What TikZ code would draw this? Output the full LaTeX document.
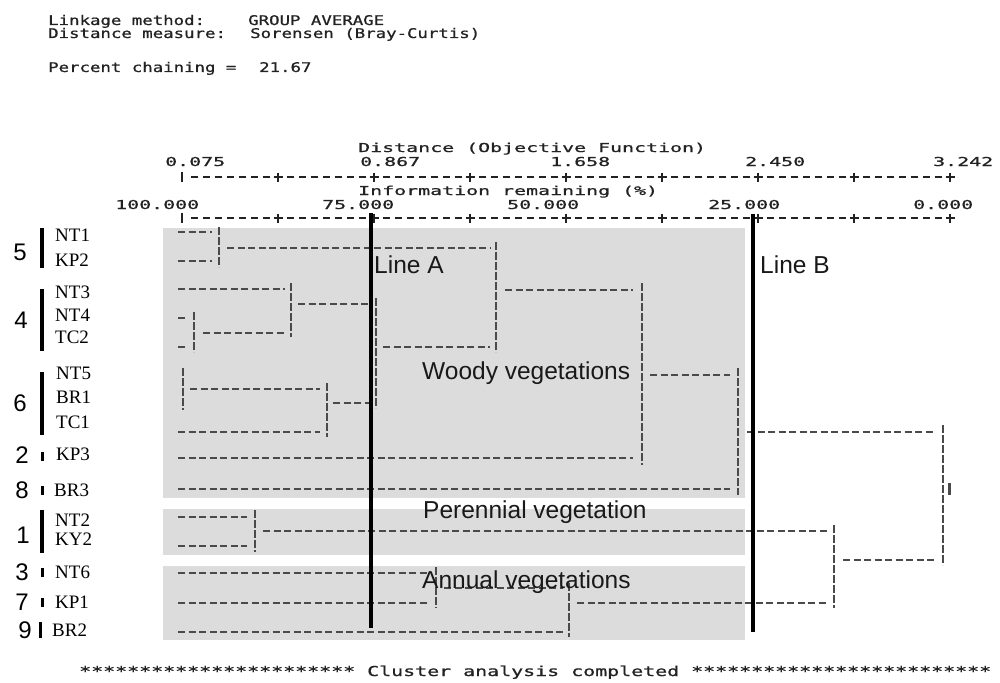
\documentclass[tikz,border=0pt]{standalone}
\usepackage{fontspec}
\setmainfont{Liberation Sans}
\newfontfamily\hdrfont[FakeStretch=1.306,FakeBold=0.9]{DejaVu Sans Mono}
\newfontfamily\axfont[FakeStretch=1.62,FakeBold=0.9]{DejaVu Sans Mono}
\newfontfamily\ftfont[FakeStretch=1.455,FakeBold=0.9]{DejaVu Sans Mono}
\newfontfamily\leaffont{Liberation Serif}
\definecolor{boxgray}{HTML}{DCDCDC}
\definecolor{dline}{HTML}{4A4A4A}
\definecolor{txt}{HTML}{222222}
\tikzset{
  hdr/.style={anchor=base west,inner sep=0pt,text=txt,font=\hdrfont\fontsize{13.3}{14}\selectfont},
  axt/.style={anchor=base west,inner sep=0pt,text=txt,font=\axfont\fontsize{12.3}{13}\selectfont},
  ftr/.style={anchor=base west,inner sep=0pt,text=txt,font=\ftfont\fontsize{13.7}{14}\selectfont},
  grp/.style={inner sep=0pt,text=black,font=\fontsize{24}{26}\selectfont},
  leaf/.style={anchor=west,inner sep=0pt,text=black,font=\leaffont\fontsize{19}{20}\selectfont},
  big/.style={anchor=base west,inner sep=0pt,text=black!90,font=\fontsize{24.5}{26}\selectfont},
  gbar/.style={line width=4pt,black},
  vegbox/.style={fill=boxgray,draw=none},
  dh/.style={draw=dline,line width=1.5pt,dash pattern=on 7pt off 3.5pt},
  dv/.style={draw=dline,line width=1.5pt,dash pattern=on 8pt off 2pt},
  cutline/.style={line width=3.5pt,black},
  tickdash/.style={draw=txt,line width=1.3pt,dash pattern=on 7pt off 5pt},
  tickmark/.style={draw=txt,line width=1.3pt},
}
\begin{document}
\begin{tikzpicture}[x=1pt,y=-1pt]
\fill[white] (0,0) rectangle (1000,682);
\useasboundingbox (0,0) rectangle (1000,682);

% header
\node[hdr] (lm) at (48,25) {Linkage method:};
\node[hdr] (lmv) at (248,25) {GROUP AVERAGE};
\node[hdr] (dm) at (48,38) {Distance measure:};
\node[hdr] (dmv) at (250,38) {Sorensen (Bray-Curtis)};
\node[hdr] (pc) at (48,72) {Percent chaining =};
\node[hdr] (pcv) at (259,72) {21.67};

% axes
\node[axt] (dtitle) at (358,152) {Distance (Objective Function)};
\node[axt] (d1) at (165,166) {0.075};
\node[axt] (d2) at (360,166) {0.867};
\node[axt] (d3) at (550,166) {1.658};
\node[axt] (d4) at (745,166) {2.450};
\node[axt] (d5) at (933,166) {3.242};
\node[axt] (ititle) at (358,195) {Information remaining (\%)};
\node[axt] (i1) at (115,209) {100.000};
\node[axt] (i2) at (322,209) {75.000};
\node[axt] (i3) at (507,209) {50.000};
\node[axt] (i4) at (708,209) {25.000};
\node[axt] (i5) at (913,209) {0.000};
\foreach \yy in {177,218} {
  \draw[tickdash] (190.5,\yy) -- (946,\yy);
  \draw[tickmark] (182,\yy-5) -- (182,\yy+5);
  \foreach \xx in {278,374,470,566,662,758,854,950}
    \draw[tickmark] (\xx-4.5,\yy) -- (\xx+4.5,\yy) (\xx,\yy-4.5) -- (\xx,\yy+4.5);
}

% grey boxes
\fill[vegbox] (163,228) rectangle (745,498);
\fill[vegbox] (163,509) rectangle (745,555);
\fill[vegbox] (163,566) rectangle (745,640);

% dendrogram
\draw[dh] (178,232) -- (212,232);
\draw[dh] (178,261) -- (212,261);
\draw[dv] (219,227) -- (219,267);
\draw[dh] (227,248) -- (490,248);
\draw[dh] (178,289) -- (285,289);
\draw[dh] (178,318) -- (186,318);
\draw[dh] (178,347) -- (186,347);
\draw[dv] (194,312) -- (194,352);
\draw[dh] (203,333) -- (285,333);
\draw[dv] (291,283) -- (291,337);
\draw[dh] (298,304) -- (368,304);
\draw[dv] (183,368) -- (183,410);
\draw[dh] (190,389) -- (320,389);
\draw[dh] (178,432) -- (320,432);
\draw[dv] (327,383) -- (327,437);
\draw[dh] (333,403) -- (369,403);
\draw[dv] (376,298) -- (376,408);
\draw[dh] (383,347) -- (490,347);
\draw[dv] (496,242) -- (496,352);
\draw[dh] (505,290) -- (633,290);
\draw[dh] (178,458) -- (633,458);
\draw[dv] (642,283) -- (642,465);
\draw[dh] (650,375) -- (730,375);
\draw[dh] (178,489) -- (730,489);
\draw[dv] (738,368) -- (738,495);
\draw[dh] (747,432) -- (935,432);
\draw[dh] (178,517) -- (247,517);
\draw[dh] (178,546) -- (247,546);
\draw[dv] (255,510) -- (255,552);
\draw[dh] (263,531) -- (828,531);
\draw[dh] (178,573) -- (430,573);
\draw[dh] (178,603) -- (430,603);
\draw[dv] (436,567) -- (436,608);
\draw[dh] (444,588) -- (563,588);
\draw[dh] (178,632) -- (563,632);
\draw[dv] (569,583) -- (569,637);
\draw[dh] (577,603) -- (828,603);
\draw[dv] (834,525) -- (834,608);
\draw[dh] (843,560) -- (935,560);
\draw[dv] (943,425) -- (943,565);
\draw[line width=3pt,dline] (949,483) -- (949,495);

% cut lines
\draw[cutline] (371,213) -- (371,628);
\draw[cutline] (753,214) -- (753,632);

% labels on plot
\node[big] (la) at (374,273) {Line A};
\node[big] (lb) at (760,273) {Line B};
\node[big] (wv) at (422,379) {Woody vegetations};
\node[big] (pv) at (423,518) {Perennial vegetation};
\node[big] (av) at (422,588) {Annual vegetations};

% group numbers and bars
\node[grp] (g5) at (20,252) {5};
\node[grp] (g4) at (21,320) {4};
\node[grp] (g6) at (20,403) {6};
\node[grp] (g2) at (22,455) {2};
\node[grp] (g8) at (22,490) {8};
\node[grp] (g1) at (23,535) {1};
\node[grp] (g3) at (22,572) {3};
\node[grp] (g7) at (22,602) {7};
\node[grp] (g9) at (25,630) {9};
\draw[gbar] (42,228) -- (42,268);
\draw[gbar] (42,289) -- (42,351);
\draw[gbar] (42,372) -- (42,435);
\draw[line width=3pt] (42,452) -- (42,461);
\draw[line width=3pt] (42,486) -- (42,495);
\draw[gbar] (42,510) -- (42,553);
\draw[line width=3pt] (42,568) -- (42,577);
\draw[line width=3pt] (42,598) -- (42,607);
\draw[line width=3pt] (40,622) -- (40,638);

% leaf labels
\node[leaf] (nt1) at (55,235) {NT1};
\node[leaf] (kp2) at (55,260) {KP2};
\node[leaf] (nt3) at (55,292) {NT3};
\node[leaf] (nt4) at (55,315) {NT4};
\node[leaf] (tc2) at (55,337) {TC2};
\node[leaf] (nt5) at (56,373) {NT5};
\node[leaf] (br1) at (56,397) {BR1};
\node[leaf] (tc1) at (56,422) {TC1};
\node[leaf] (kp3) at (56,454) {KP3};
\node[leaf] (br3) at (54,490) {BR3};
\node[leaf] (nt2) at (55,520) {NT2};
\node[leaf] (ky2) at (55,539) {KY2};
\node[leaf] (nt6) at (55,572) {NT6};
\node[leaf] (kp1) at (55,602) {KP1};
\node[leaf] (br2) at (52,630) {BR2};

% footer
\node[ftr] (foot) at (79,676) {*********************** Cluster analysis completed *************************};
\end{tikzpicture}
\end{document}
